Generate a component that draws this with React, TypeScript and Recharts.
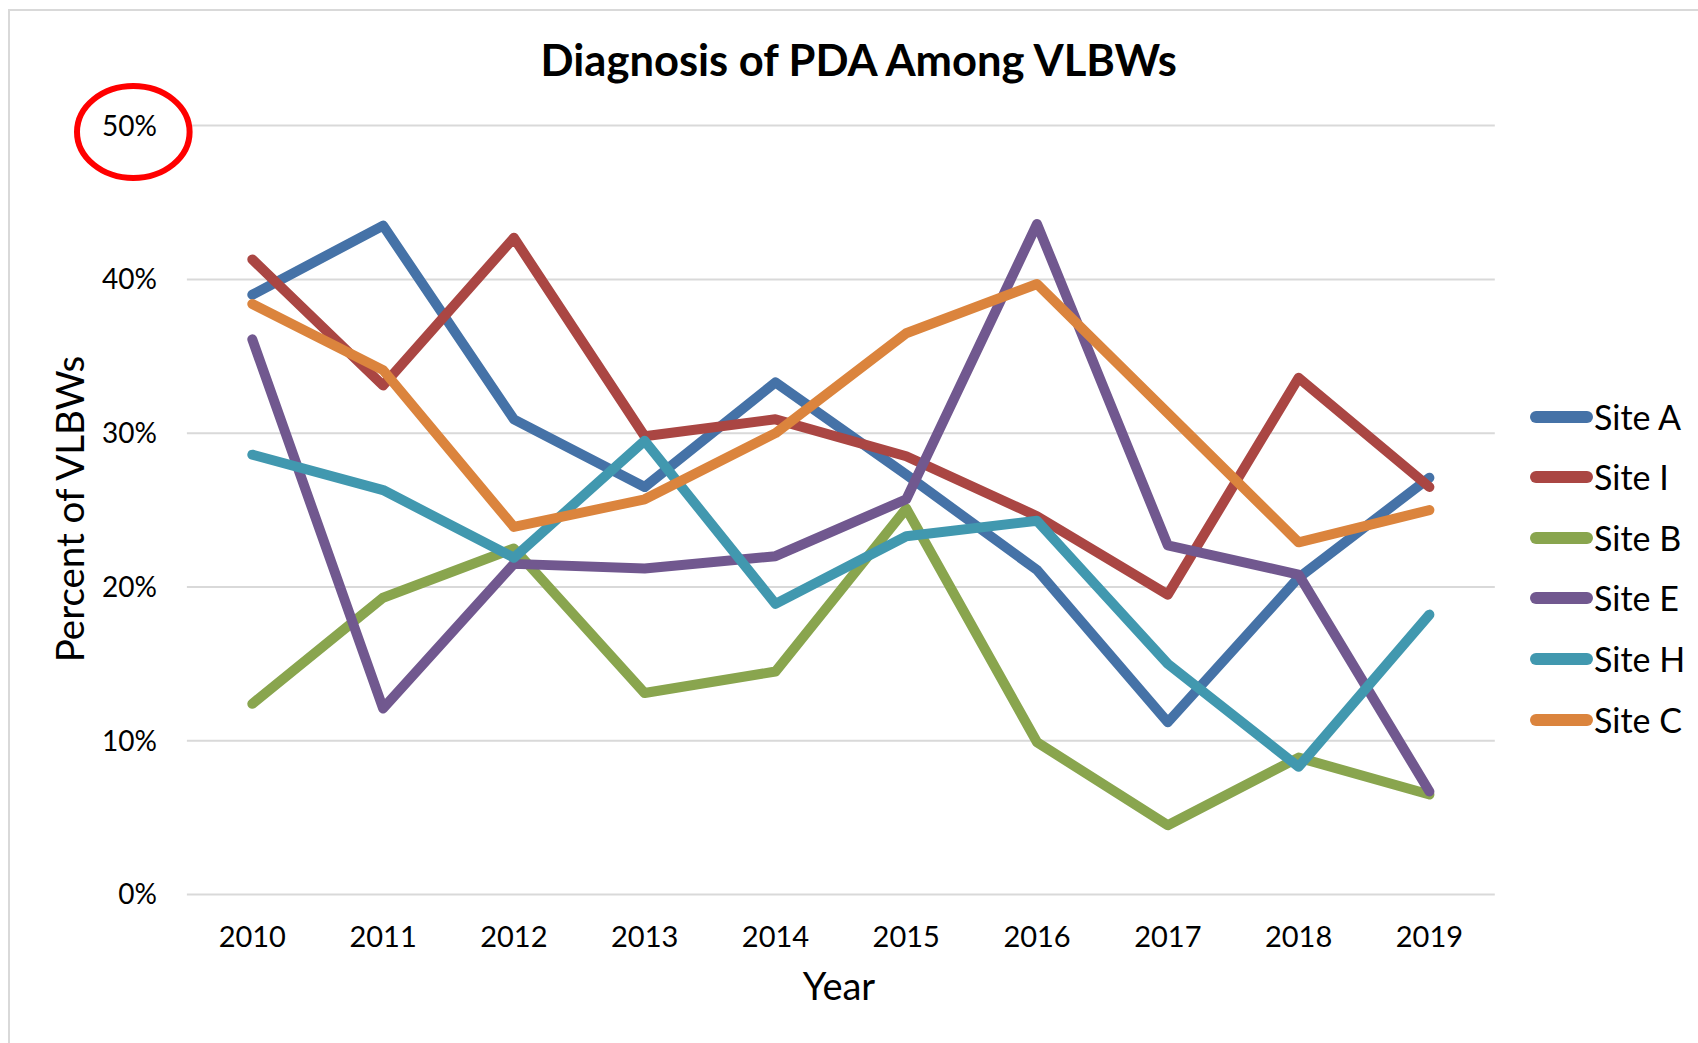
import React from 'react';
import { LineChart, Line, XAxis, YAxis, CartesianGrid, Legend } from 'recharts';

const years = ['2010', '2011', '2012', '2013', '2014', '2015', '2016', '2017', '2018', '2019'];
const siteA = [39.0, 43.5, 30.9, 26.5, 33.3, 27.3, 21.1, 11.2, 20.6, 27.1];
const siteI = [41.3, 33.1, 42.7, 29.8, 30.9, 28.5, 24.6, 19.5, 33.6, 26.5];
const siteB = [12.4, 19.3, 22.5, 13.1, 14.5, 25.1, 9.9, 4.5, 8.9, 6.5];
const siteE = [36.1, 12.1, 21.5, 21.2, 22.0, 25.7, 43.6, 22.7, 20.8, 6.7];
const siteH = [28.6, 26.3, 21.9, 29.5, 18.9, 23.3, 24.3, 15.0, 8.3, 18.2];
const siteC = [38.4, 34.1, 23.9, 25.7, 30.0, 36.5, 39.7, 31.3, 22.9, 25.0];
const yTicks = [0, 10, 20, 30, 40, 50];

const seriesNames = ['Site A', 'Site I', 'Site B', 'Site E', 'Site H', 'Site C'];
const seriesValues = [siteA, siteI, siteB, siteE, siteH, siteC];
const seriesColors = ['#4572A7', '#AA4643', '#89A54E', '#71588F', '#4198AF', '#DB843D'];

const data = years.map((y, i) => {
  const row: Record<string, string | number> = { year: y };
  seriesNames.forEach((n, k) => {
    row[n] = seriesValues[k][i];
  });
  return row;
});

const FONT = 'Lato, "Open Sans", sans-serif';

const renderLegend = () => (
  <div style={{ fontFamily: FONT }}>
    {seriesNames.map((n, k) => (
      <div key={n} style={{ height: 60.6, display: 'flex', alignItems: 'center' }}>
        <svg width={70} height={20} style={{ display: 'block', flex: 'none' }}>
          <line x1={12} y1={10} x2={63} y2={10} stroke={seriesColors[k]} strokeWidth={12} strokeLinecap="round" />
        </svg>
        <span style={{ fontSize: 34, lineHeight: '34px', color: '#000', whiteSpace: 'nowrap' }}>{n}</span>
      </div>
    ))}
  </div>
);

export default function App() {
  return (
    <div style={{ position: 'absolute', left: 0, top: 0, width: 1698, height: 1043, overflow: 'hidden', background: '#fff', fontFamily: FONT }}>
      <div style={{ position: 'absolute', left: 8, top: 9, width: 1760, height: 1100, border: '2px solid #d9d9d9', boxSizing: 'border-box' }} />
      <div style={{ position: 'absolute', left: 0, top: 0 }}>
        <LineChart width={1698} height={1043} data={data} margin={{ top: 125.6, right: 203.2, bottom: 108.5, left: 126.9 }}>
          <CartesianGrid vertical={false} stroke="#d9d9d9" strokeWidth={2} />
          <XAxis
            dataKey="year"
            padding={{ left: 65.4, right: 65.4 }}
            tickLine={false}
            axisLine={false}
            tickSize={0}
            tickMargin={32}
            height={40}
            tick={{ fontSize: 29, fill: '#000', fontFamily: FONT }}
          />
          <YAxis
            domain={[0, 50]}
            ticks={yTicks}
            tickFormatter={(v: number) => `${v}%`}
            tickLine={false}
            axisLine={false}
            tickSize={0}
            tickMargin={30}
            width={60}
            tick={{ fontSize: 28, fill: '#000', fontFamily: FONT }}
          />
          <Legend
            layout="vertical"
            align="center"
            verticalAlign="middle"
            content={renderLegend}
            wrapperStyle={{ left: 1524, top: 386.4, width: 174 }}
          />
          {seriesNames.map((n, k) => (
            <Line
              key={n}
              type="linear"
              dataKey={n}
              stroke={seriesColors[k]}
              strokeWidth={10}
              strokeLinecap="round"
              strokeLinejoin="round"
              dot={false}
              activeDot={false}
              isAnimationActive={false}
            />
          ))}
        </LineChart>
      </div>
      <svg width={1698} height={1043} style={{ position: 'absolute', left: 0, top: 0, pointerEvents: 'none' }}>
        <text x={858.7} y={76} textAnchor="middle" fontFamily={FONT} fontWeight="bold" fontSize={43.5} fill="#000">
          Diagnosis of PDA Among VLBWs
        </text>
        <text x={83.5} y={509} textAnchor="middle" fontFamily={FONT} fontSize={38.5} fill="#000" transform="rotate(-90, 83.5, 509)">
          Percent of VLBWs
        </text>
        <text x={839} y={1000} textAnchor="middle" fontFamily={FONT} fontSize={38} fill="#000">
          Year
        </text>
        <ellipse cx={133.3} cy={132} rx={56.3} ry={46} fill="none" stroke="#FF0000" strokeWidth={6} />
      </svg>
    </div>
  );
}
